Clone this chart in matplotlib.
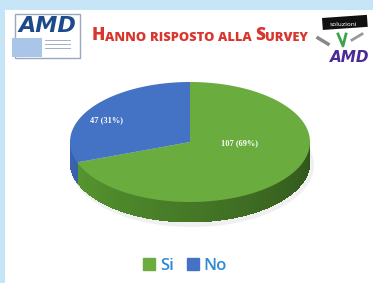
import matplotlib.pyplot as plt
import matplotlib.patches as mpatches
import matplotlib.colors as mcolors
import numpy as np

labels = ["Si", "No"]
values = [107, 47]
top_colors = ["#6aac3e", "#4472c4"]
side_colors = ["#4f8a2c", "#34589c"]
title_parts = [("H", 12.5), ("ANNO ", 9.3), ("RISPOSTO ", 9.3), ("ALLA ", 9.3), ("S", 12.5), ("URVEY", 9.3)]

W, H = 373, 283
fig = plt.figure(figsize=(W / 100, H / 100), dpi=100)
fig.patch.set_facecolor("white")
ax = fig.add_axes([0, 0, 1, 1])
ax.set_xlim(0, W)
ax.set_ylim(H, 0)
ax.axis("off")

# light blue frame
ax.add_patch(mpatches.Rectangle((0, 0), W, 10, color="#c6e6f8", lw=0))
ax.add_patch(mpatches.Rectangle((0, 0), 5, H, color="#c6e6f8", lw=0))

# left logo
ax.add_patch(mpatches.Rectangle((15, 14), 65, 44, fill=False, ec="#9aa8bd", lw=1))
ax.add_patch(mpatches.Rectangle((12, 38), 30, 19, color="#a9c6e8", lw=0))
ax.text(47, 26, "AMD", color="#1d4a8a", fontsize=16, fontweight="heavy", style="italic",
        ha="center", va="center", family="DejaVu Sans")
for i in range(3):
    ax.plot([45, 70], [40 + 4 * i, 40 + 4 * i], color="#8fa3c4", lw=0.6)

# right logo
ax.add_patch(mpatches.Rectangle((322, 18), 45, 12, color="#111111", lw=0, angle=-4))
ax.text(343, 25, "soluzioni", color="white", fontsize=4.5, ha="center", va="center")
ax.plot([338, 343, 346], [34, 46, 34], color="#3aa54a", lw=2)
ax.plot([318, 328], [38, 44], color="#888888", lw=2.5)
ax.plot([352, 362], [40, 34], color="#999999", lw=2)
ax.text(350, 57, "AMD", color="#4b2a98", fontsize=11, fontweight="bold", style="italic",
        ha="center", va="center")

# title in small caps
prev = ax.text(92, 40, title_parts[0][0], color="#d8362f", fontsize=title_parts[0][1],
               fontweight="heavy", family="Open Sans", va="baseline")
for txt, fs in title_parts[1:]:
    prev = ax.annotate(txt, xy=(1, 0), xycoords=prev, va="bottom", ha="left",
                       color="#d8362f", fontsize=fs, fontweight="heavy", family="Open Sans")

# 3D pie
cx, cy, rx, ry, depth = 190, 142, 120, 60, 20
total = sum(values)
starts = []
a = 90.0
for v in values:
    starts.append((a - 360 * v / total, a))
    a -= 360 * v / total

# soft shadow
ax.add_patch(mpatches.Ellipse((cx + 2, cy + depth + 3), 2 * rx + 4, 2 * ry + 4,
                              color="#f0f0f0", lw=0, zorder=1))

def pt(t, dy=0):
    r = np.radians(t)
    return cx + rx * np.cos(r), cy - ry * np.sin(r) + dy

# side faces (front half only), drawn as shaded strips
for (t1, t2), c in zip(starts, side_colors):
    t1n, t2n = t1 % 360, t2 % 360
    if t2n <= t1n:
        t2n += 360
    base = np.array(mcolors.to_rgb(c))
    for s in np.arange(t1n, t2n, 1.0):
        e = min(s + 1.0, t2n)
        sm = ((s + e) / 2) % 360
        if not (180 <= sm <= 360):
            continue
        shade = 1.0 - (sm - 180) / 180
        col = np.clip(base * (0.6 + 0.55 * shade), 0, 1)
        p1, p2 = pt(s - 0.4), pt(e + 0.4)
        q1, q2 = pt(s - 0.4, depth), pt(e + 0.4, depth)
        ax.add_patch(mpatches.Polygon([p1, p2, q2, q1], color=col, lw=0, zorder=2,
                                      antialiased=False))

# top faces
for (t1, t2), c in zip(starts, top_colors):
    ts = np.linspace(t1, t2, 200)
    pts = [(cx, cy)] + [pt(t) for t in ts]
    ax.add_patch(mpatches.Polygon(pts, color=c, lw=0, zorder=3))

# data labels
label_r = [0.5, 0.85]
label_shift = [-16, 7]
for (t1, t2), v, f, sh in zip(starts, values, label_r, label_shift):
    m = np.radians((t1 + t2) / 2)
    x = cx + f * rx * np.cos(m)
    y = cy - f * ry * np.sin(m) + sh
    ax.text(x, y, f"{v} ({round(100 * v / total)}%)", color="white", fontsize=6,
            fontweight="bold", family="Liberation Serif", ha="center", va="center", zorder=4)

handles = [mpatches.Patch(color=c) for c in top_colors]
leg = ax.legend(handles, labels, loc="center", bbox_to_anchor=(185 / W, 1 - 266 / H),
                ncol=2, frameon=False, handlelength=0.7, handleheight=0.7,
                handletextpad=0.3, columnspacing=0.8,
                prop={"family": "Open Sans", "size": 12, "weight": "semibold"})
for t in leg.get_texts():
    t.set_color("#2f8ad2")

fig.savefig("out.png", dpi=100)
